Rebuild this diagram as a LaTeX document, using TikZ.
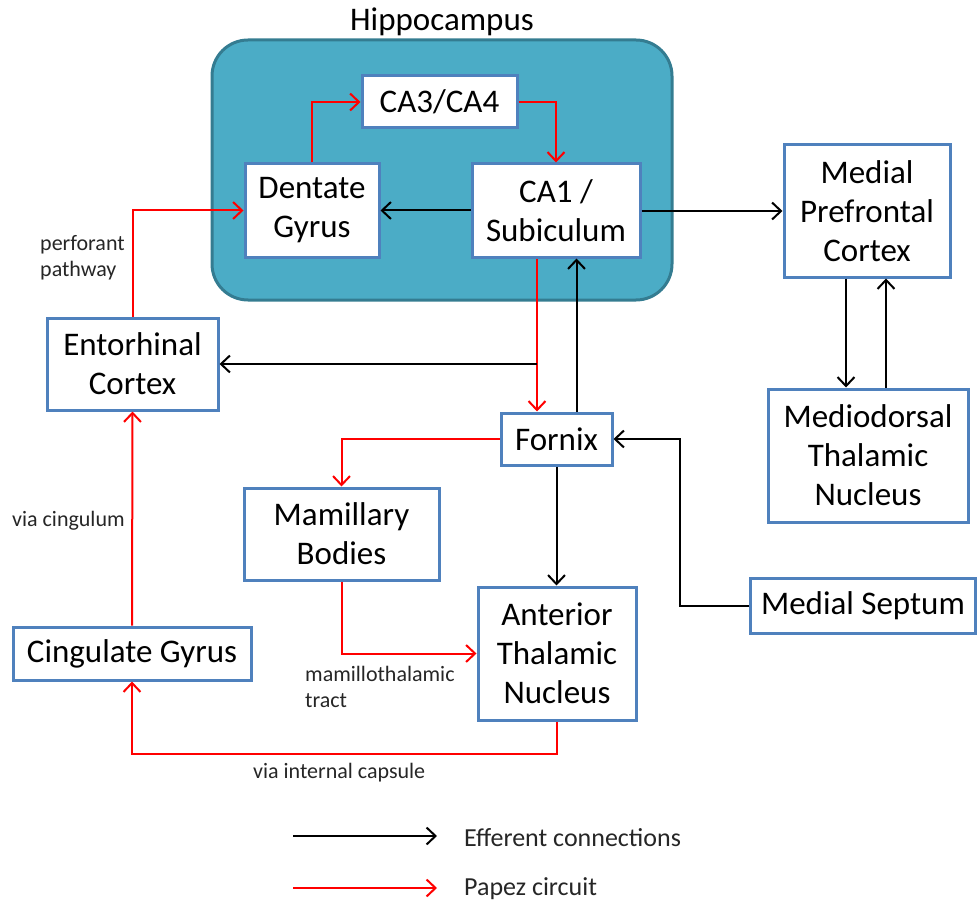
\documentclass[tikz,border=0pt]{standalone}
\usepackage{fontspec}
\setmainfont{Carlito}
\usetikzlibrary{arrows.meta,calc}
\definecolor{boxblue}{RGB}{79,129,189}
\definecolor{hipfill}{RGB}{75,172,198}
\definecolor{hipline}{RGB}{52,124,145}
\definecolor{papez}{RGB}{255,0,0}
\tikzset{
  box/.style={draw=boxblue, line width=3pt, fill=white, align=center,
    inner sep=0pt, font=\fontsize{33}{39}\selectfont},
  tip/.style={-{Straight Barb[length=9pt,width=17pt,line width=2pt]}},
  blk/.style={tip, draw=black, line width=2pt},
  red/.style={tip, draw=papez, line width=2pt},
  note/.style={anchor=west, align=left, inner sep=0pt, text=black!85,
    font=\fontsize{22}{26}\selectfont},
  legend/.style={anchor=west, inner sep=0pt, text=black!85,
    font=\fontsize{26}{30}\selectfont}
}
\begin{document}
\begin{tikzpicture}[x=1pt,y=-1pt]
\useasboundingbox (0,0) rectangle (977,904);

% hippocampal formation
\draw[fill=hipfill, draw=hipline, line width=3pt, rounded corners=36pt]
  (212,40) rectangle (672,300);
\node[font=\fontsize{33}{39}\selectfont, inner sep=0pt] (hiptitle) at (442,22) {Hippocampus};

% regions
\node[box, minimum width=155pt, minimum height=52pt] (ca3) at (439.5,102) {CA3/CA4};
\node[box, minimum width=134pt, minimum height=93pt] (dg) at (312,210.5) {Dentate\\Gyrus};
\node[box, minimum width=168pt, minimum height=93pt] (ca1) at (556,210.5) {CA1 /\\Subiculum};
\node[box, minimum width=166pt, minimum height=132pt] (mpc) at (867,211) {Medial\\Prefrontal\\Cortex};
\node[box, minimum width=171pt, minimum height=92pt] (ent) at (132.5,364) {Entorhinal\\Cortex};
\node[box, minimum width=111pt, minimum height=52pt] (fornix) at (556.5,439) {Fornix};
\node[box, minimum width=200pt, minimum height=133pt] (md) at (868,455.5) {Mediodorsal\\Thalamic\\Nucleus};
\node[box, minimum width=195pt, minimum height=92pt] (mam) at (341.5,534) {Mamillary\\Bodies};
\node[box, minimum width=158pt, minimum height=133pt] (atn) at (557,653.5) {Anterior\\Thalamic\\Nucleus};
\node[box, minimum width=225pt, minimum height=55pt] (sep) at (863,606) {Medial Septum};
\node[box, minimum width=238pt, minimum height=53pt] (cing) at (132,653.5) {Cingulate Gyrus};

% Papez circuit
\draw[red] (dg.north) |- (ca3.west);
\draw[red] (ca3.east) -| (ca1.north);
\draw[red] (ent.north) |- (dg.west);
\draw[red] ([xshift=-19pt]ca1.south) -- ([xshift=-19pt]ca1.south |- fornix.north);
\draw[red] (fornix.west) -| (mam.north);
\draw[red] (mam.south) |- (atn.west);
\draw[red] (atn.south) -- ++(0,32) -| (cing.south);
\draw[red] (cing.north) -- (ent.south);

% efferent connections
\coordinate (split) at ([xshift=-19pt]ca1.south |- ent.east);
\draw[blk] (split) -- (ent.east);
\draw[blk] (ca1.west) -- (dg.east);
\draw[blk] (ca1.east |- mpc.west) -- (mpc.west);
\draw[blk] ([xshift=20pt]fornix.north) -- ([xshift=20pt]fornix.north |- ca1.south);
\draw[blk] (fornix.south) -- (fornix.south |- atn.north);
\draw[blk] ([xshift=-21pt]mpc.south) -- ([xshift=-21pt]mpc.south |- md.north);
\draw[blk] ([xshift=19pt]mpc.south |- md.north) -- ([xshift=19pt]mpc.south);
\draw[blk] (sep.west) -- ([xshift=-69pt]sep.west) |- (fornix.east);

% pathway names
\node[note] (perf) at (40,258) {perforant\\pathway};
\node[note] (cingl) at (12,521) {via cingulum};
\node[note] (mtt) at (305,687) {mamillothalamic\\tract};
\node[note] (ic) at (253,773) {via internal capsule};

% key
\coordinate (k1a) at (293,836);
\coordinate (k1b) at (437,836);
\coordinate (k2a) at (293,888);
\coordinate (k2b) at (437,888);
\draw[blk] (k1a) -- (k1b);
\draw[red] (k2a) -- (k2b);
\node[legend] (k1t) at (464,838) {Efferent connections};
\node[legend] (k2t) at (464,889) {Papez circuit};
\end{tikzpicture}
\end{document}
